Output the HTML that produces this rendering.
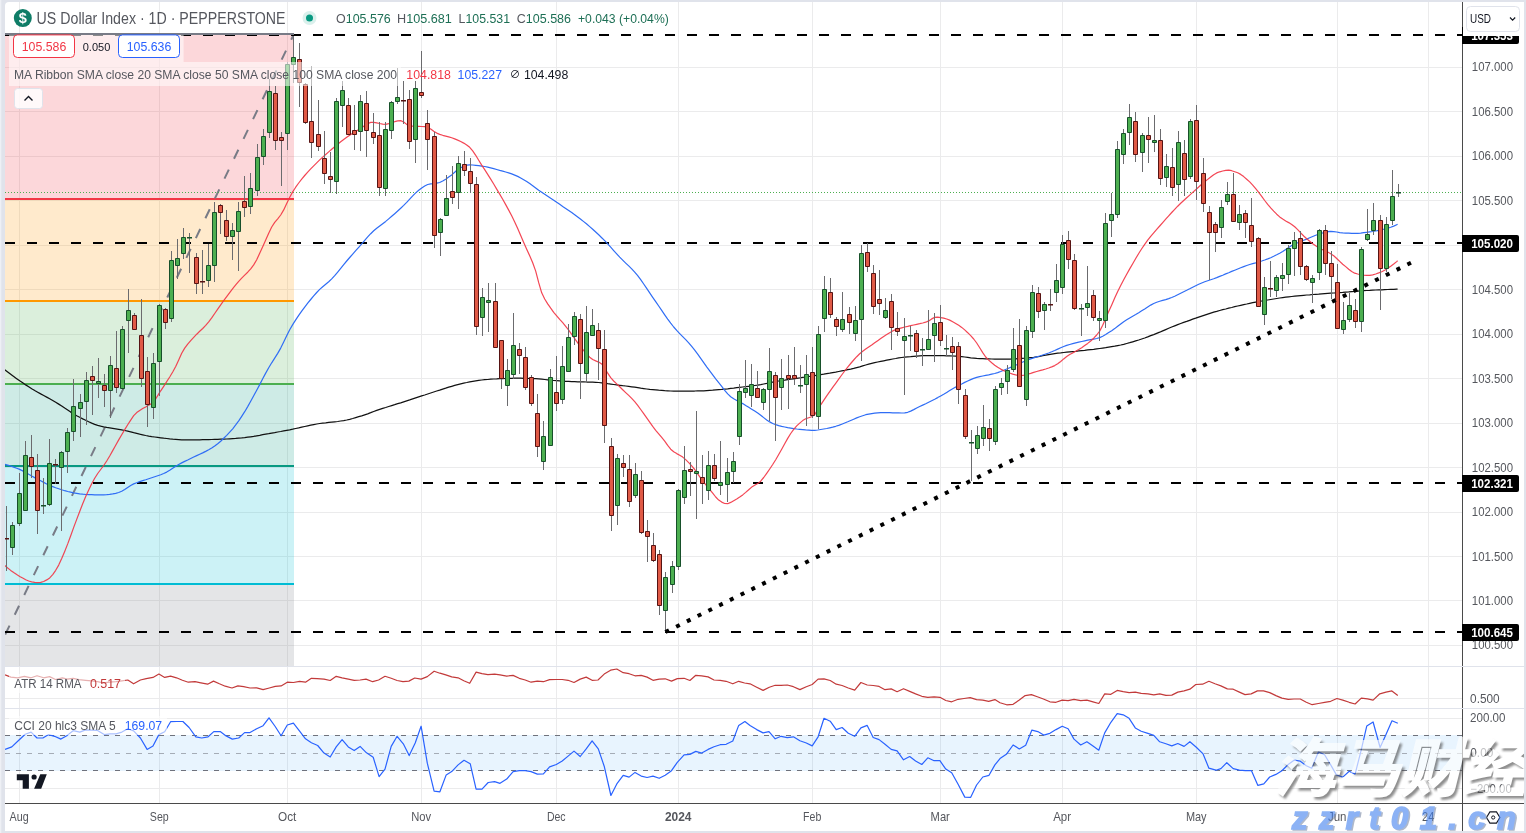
<!DOCTYPE html>
<html lang="en"><head><meta charset="utf-8"><title>US Dollar Index · 1D · PEPPERSTONE</title>
<style>html,body{margin:0;padding:0;background:#fff;overflow:hidden}svg{display:block}text{white-space:pre}</style>
</head><body>
<svg width="1526" height="833" viewBox="0 0 1526 833" font-family='"Liberation Sans", "Noto Sans CJK SC", sans-serif'>
<defs>
<clipPath id="cm"><rect x="5" y="2" width="1457" height="664"/></clipPath>
<clipPath id="ca"><rect x="5" y="666" width="1457" height="42"/></clipPath>
<clipPath id="cc"><rect x="5" y="708" width="1457" height="95"/></clipPath>
<clipPath id="call"><rect x="5" y="2" width="1519" height="829"/></clipPath>
</defs>
<rect x="0" y="0" width="1526" height="833" fill="#e0e3eb"/>
<rect x="0" y="0" width="1.3" height="833" fill="#eef0f5"/>
<rect x="5" y="2" width="1519" height="829" rx="4" fill="#fff"/>
<path d="M19.5 2V803M159.5 2V803M287.5 2V803M421.5 2V803M556.5 2V803M678.5 2V803M812.5 2V803M940.5 2V803M1062.5 2V803M1196.5 2V803M1337.5 2V803M1428.5 2V803M5 67.5H1462M5 111.5H1462M5 156.5H1462M5 200.5H1462M5 245.5H1462M5 289.5H1462M5 334.5H1462M5 378.5H1462M5 423.5H1462M5 467.5H1462M5 512.5H1462M5 556.5H1462M5 600.5H1462M5 645.5H1462M5 698.5H1462M5 718.5H1462M5 788.5H1462" stroke="#ebebec" stroke-width="1" fill="none"/>
<g clip-path="url(#cm)">
<rect x="5" y="34.0" width="289" height="165.0" fill="#f23645" fill-opacity="0.2"/>
<rect x="5" y="199.0" width="289" height="102.1" fill="#ff9800" fill-opacity="0.2"/>
<rect x="5" y="301.1" width="289" height="82.5" fill="#4caf50" fill-opacity="0.2"/>
<rect x="5" y="383.6" width="289" height="82.5" fill="#089981" fill-opacity="0.2"/>
<rect x="5" y="466.1" width="289" height="117.5" fill="#00bcd4" fill-opacity="0.2"/>
<rect x="5" y="583.5" width="289" height="149.6" fill="#787b86" fill-opacity="0.2"/>
<path d="M5 34H294" stroke="#787b86" stroke-width="2"/>
<path d="M5 199H294" stroke="#f23645" stroke-width="2"/>
<path d="M5 301H294" stroke="#ff9800" stroke-width="2"/>
<path d="M5 384H294" stroke="#4caf50" stroke-width="2"/>
<path d="M5 466H294" stroke="#089981" stroke-width="2"/>
<path d="M5 584H294" stroke="#00bcd4" stroke-width="2"/>
<path d="M5 733H294" stroke="#787b86" stroke-width="2"/>
<path d="M5.2 634.6 L294 34" stroke="#787b86" stroke-width="2" stroke-dasharray="10 12" fill="none"/>
</g>
<g clip-path="url(#cm)">
<path d="M5 35H1462" stroke="#000" stroke-width="2" stroke-dasharray="10 12"/>
<path d="M5 243H1462" stroke="#000" stroke-width="2" stroke-dasharray="10 12"/>
<path d="M5 483H1462" stroke="#000" stroke-width="2" stroke-dasharray="10 12"/>
<path d="M5 632H1462" stroke="#000" stroke-width="2" stroke-dasharray="10 12"/>
<path d="M5 34H294" stroke="#787b86" stroke-width="2"/>
<path d="M5 192.5H1462" stroke="#4caf50" stroke-width="1" stroke-dasharray="1 2"/>
</g>
<path d="M4.7 369.7L7.7 372.0L10.7 374.3L13.7 376.5L16.7 378.7L19.7 380.8L22.7 382.8L25.7 384.9L28.7 386.8L31.7 388.7L34.7 390.5L37.7 392.2L40.7 393.9L43.7 395.5L46.7 397.1L49.7 398.8L52.7 400.5L55.7 402.2L58.7 404.1L61.7 406.0L64.7 408.1L67.7 410.1L70.7 412.1L73.7 414.0L76.7 415.8L79.7 417.3L82.7 418.9L85.7 420.3L88.7 421.8L91.7 423.1L94.7 424.3L97.7 425.3L100.7 426.1L103.7 426.8L106.7 427.4L109.7 427.9L112.7 428.4L115.7 428.9L118.7 429.4L121.7 429.9L124.7 430.5L127.7 431.1L130.7 431.8L133.7 432.6L136.7 433.3L139.7 434.1L142.7 434.8L145.7 435.5L148.7 436.1L151.7 436.6L154.7 437.0L157.7 437.4L160.7 437.8L163.7 438.2L166.7 438.5L169.7 438.9L172.7 439.2L175.7 439.4L178.7 439.6L181.7 439.8L184.7 439.9L187.7 439.9L190.7 439.9L193.7 439.9L196.7 439.8L199.7 439.8L202.7 439.7L205.7 439.7L208.7 439.6L211.7 439.5L214.7 439.4L217.7 439.3L220.7 439.2L223.7 439.1L226.7 439.0L229.7 438.8L232.7 438.6L235.7 438.4L238.7 438.1L241.7 437.9L244.7 437.6L247.7 437.2L250.7 436.8L253.7 436.4L256.7 435.8L259.7 435.3L262.7 434.7L265.7 434.2L268.7 433.7L271.7 433.1L274.7 432.6L277.7 432.0L280.7 431.5L283.7 430.9L286.7 430.3L289.7 429.8L292.7 429.2L295.7 428.5L298.7 427.9L301.7 427.2L304.7 426.5L307.7 425.8L310.7 425.2L313.7 424.6L316.7 424.0L319.7 423.5L322.7 423.1L325.7 422.8L328.7 422.4L331.7 422.1L334.7 421.8L337.7 421.5L340.7 421.0L343.7 420.6L346.7 420.0L349.7 419.3L352.7 418.5L355.7 417.6L358.7 416.7L361.7 415.8L364.7 414.8L367.7 413.8L370.7 412.7L373.7 411.5L376.7 410.4L379.7 409.4L382.7 408.4L385.7 407.5L388.7 406.5L391.7 405.6L394.7 404.7L397.7 403.7L400.7 402.8L403.7 401.8L406.7 400.8L409.7 399.9L412.7 398.9L415.7 397.9L418.7 396.9L421.7 395.9L424.7 395.0L427.7 394.0L430.7 393.0L433.7 392.0L436.7 391.0L439.7 390.1L442.7 389.1L445.7 388.2L448.7 387.2L451.7 386.3L454.7 385.4L457.7 384.6L460.7 383.8L463.7 383.1L466.7 382.5L469.7 381.8L472.7 381.3L475.7 380.8L478.7 380.4L481.7 380.0L484.7 379.7L487.7 379.5L490.7 379.2L493.7 379.0L496.7 378.9L499.7 378.7L502.7 378.6L505.7 378.5L508.7 378.4L511.7 378.3L514.7 378.2L517.7 378.2L520.7 378.2L523.7 378.3L526.7 378.4L529.7 378.5L532.7 378.6L535.7 378.7L538.7 378.9L541.7 379.2L544.7 379.5L547.7 379.8L550.7 380.2L553.7 380.5L556.7 380.7L559.7 380.9L562.7 381.1L565.7 381.3L568.7 381.4L571.7 381.6L574.7 381.7L577.7 381.8L580.7 381.8L583.7 381.9L586.7 382.0L589.7 382.0L592.7 382.1L595.7 382.3L598.7 382.5L601.7 382.8L604.7 383.2L607.7 383.7L610.7 384.1L613.7 384.5L616.7 384.9L619.7 385.3L622.7 385.7L625.7 386.0L628.7 386.4L631.7 386.8L634.7 387.2L637.7 387.7L640.7 388.2L643.7 388.6L646.7 389.0L649.7 389.4L652.7 389.6L655.7 389.9L658.7 390.2L661.7 390.4L664.7 390.7L667.7 390.8L670.7 391.0L673.7 391.1L676.7 391.1L679.7 391.1L682.7 391.1L685.7 391.1L688.7 391.0L691.7 391.0L694.7 391.0L697.7 390.9L700.7 390.9L703.7 390.8L706.7 390.6L709.7 390.4L712.7 390.2L715.7 389.9L718.7 389.6L721.7 389.4L724.7 389.1L727.7 388.8L730.7 388.4L733.7 388.1L736.7 387.7L739.7 387.3L742.7 387.0L745.7 386.7L748.7 386.3L751.7 385.9L754.7 385.5L757.7 385.1L760.7 384.6L763.7 384.0L766.7 383.4L769.7 382.7L772.7 382.1L775.7 381.5L778.7 381.0L781.7 380.5L784.7 380.1L787.7 379.6L790.7 379.2L793.7 378.8L796.7 378.3L799.7 377.9L802.7 377.4L805.7 377.0L808.7 376.5L811.7 376.1L814.7 375.6L817.7 375.1L820.7 374.6L823.7 374.2L826.7 373.7L829.7 373.2L832.7 372.6L835.7 372.1L838.7 371.5L841.7 370.9L844.7 370.4L847.7 369.7L850.7 369.1L853.7 368.4L856.7 367.6L859.7 366.8L862.7 365.9L865.7 365.0L868.7 364.2L871.7 363.4L874.7 362.7L877.7 362.0L880.7 361.4L883.7 360.8L886.7 360.2L889.7 359.6L892.7 359.0L895.7 358.5L898.7 357.9L901.7 357.5L904.7 357.1L907.7 356.8L910.7 356.6L913.7 356.3L916.7 356.1L919.7 355.9L922.7 355.7L925.7 355.6L928.7 355.5L931.7 355.5L934.7 355.5L937.7 355.6L940.7 355.6L943.7 355.7L946.7 355.8L949.7 355.9L952.7 356.0L955.7 356.1L958.7 356.3L961.7 356.6L964.7 357.0L967.7 357.4L970.7 357.8L973.7 358.1L976.7 358.4L979.7 358.6L982.7 358.7L985.7 358.8L988.7 358.9L991.7 359.0L994.7 359.1L997.7 359.1L1000.7 359.2L1003.7 359.2L1006.7 359.2L1009.7 359.1L1012.7 359.0L1015.7 358.8L1018.7 358.6L1021.7 358.4L1024.7 358.2L1027.7 357.9L1030.7 357.6L1033.7 357.3L1036.7 356.8L1039.7 356.3L1042.7 355.7L1045.7 355.2L1048.7 354.6L1051.7 354.1L1054.7 353.6L1057.7 353.2L1060.7 352.9L1063.7 352.5L1066.7 352.2L1069.7 351.9L1072.7 351.6L1075.7 351.3L1078.7 350.9L1081.7 350.6L1084.7 350.3L1087.7 349.9L1090.7 349.6L1093.7 349.3L1096.7 348.9L1099.7 348.5L1102.7 348.1L1105.7 347.7L1108.7 347.2L1111.7 346.7L1114.7 346.2L1117.7 345.6L1120.7 345.0L1123.7 344.3L1126.7 343.5L1129.7 342.7L1132.7 341.8L1135.7 340.9L1138.7 340.0L1141.7 339.0L1144.7 338.0L1147.7 336.9L1150.7 335.7L1153.7 334.6L1156.7 333.4L1159.7 332.2L1162.7 330.9L1165.7 329.6L1168.7 328.3L1171.7 327.0L1174.7 325.8L1177.7 324.6L1180.7 323.5L1183.7 322.4L1186.7 321.4L1189.7 320.3L1192.7 319.2L1195.7 318.2L1198.7 317.1L1201.7 316.1L1204.7 315.1L1207.7 314.1L1210.7 313.1L1213.7 312.2L1216.7 311.4L1219.7 310.5L1222.7 309.7L1225.7 309.0L1228.7 308.2L1231.7 307.5L1234.7 306.7L1237.7 306.0L1240.7 305.3L1243.7 304.6L1246.7 304.0L1249.7 303.3L1252.7 302.7L1255.7 302.1L1258.7 301.6L1261.7 301.0L1264.7 300.5L1267.7 300.0L1270.7 299.5L1273.7 299.0L1276.7 298.5L1279.7 298.0L1282.7 297.6L1285.7 297.2L1288.7 296.8L1291.7 296.5L1294.7 296.2L1297.7 295.9L1300.7 295.6L1303.7 295.3L1306.7 295.0L1309.7 294.8L1312.7 294.5L1315.7 294.3L1318.7 294.1L1321.7 293.8L1324.7 293.6L1327.7 293.4L1330.7 293.2L1333.7 293.0L1336.7 292.8L1339.7 292.6L1342.7 292.4L1345.7 292.1L1348.7 291.9L1351.7 291.6L1354.7 291.4L1357.7 291.1L1360.7 290.9L1363.7 290.7L1366.7 290.5L1369.7 290.4L1372.7 290.2L1375.7 290.0L1378.7 289.9L1381.7 289.8L1384.7 289.6L1387.7 289.5L1390.7 289.4L1393.7 289.3L1396.7 289.2L1397.6 289.2" stroke="#111" stroke-width="1.25" fill="none" stroke-linejoin="round" clip-path="url(#cm)" />
<path d="M4.7 464.3L7.7 465.1L10.7 466.0L13.7 467.1L16.7 468.2L19.7 469.4L22.7 470.9L25.7 472.5L28.7 474.3L31.7 476.0L34.7 477.6L37.7 479.2L40.7 480.8L43.7 482.4L46.7 484.0L49.7 485.4L52.7 486.6L55.7 487.8L58.7 488.8L61.7 489.8L64.7 490.7L67.7 491.5L70.7 492.2L73.7 492.8L76.7 493.3L79.7 493.8L82.7 494.2L85.7 494.5L88.7 494.6L91.7 494.7L94.7 494.8L97.7 494.9L100.7 494.9L103.7 494.9L106.7 494.7L109.7 494.4L112.7 493.9L115.7 493.3L118.7 492.5L121.7 491.2L124.7 489.4L127.7 487.4L130.7 485.5L133.7 483.9L136.7 482.7L139.7 481.6L142.7 480.6L145.7 479.7L148.7 478.7L151.7 477.7L154.7 476.7L157.7 475.7L160.7 474.7L163.7 473.5L166.7 472.1L169.7 470.3L172.7 468.3L175.7 466.3L178.7 464.5L181.7 462.9L184.7 461.4L187.7 460.0L190.7 458.5L193.7 457.0L196.7 455.6L199.7 454.2L202.7 452.9L205.7 451.4L208.7 449.8L211.7 448.1L214.7 446.0L217.7 443.7L220.7 441.2L223.7 438.3L226.7 435.3L229.7 432.1L232.7 428.8L235.7 424.9L238.7 420.8L241.7 416.3L244.7 411.7L247.7 406.6L250.7 401.2L253.7 395.7L256.7 390.2L259.7 384.6L262.7 378.8L265.7 373.1L268.7 367.8L271.7 362.8L274.7 358.2L277.7 353.4L280.7 348.1L283.7 342.1L286.7 335.8L289.7 329.8L292.7 324.6L295.7 319.9L298.7 315.4L301.7 311.2L304.7 307.1L307.7 303.2L310.7 299.5L313.7 295.9L316.7 292.5L319.7 289.4L322.7 286.7L325.7 284.2L328.7 281.7L331.7 278.9L334.7 275.7L337.7 272.1L340.7 268.4L343.7 264.7L346.7 261.0L349.7 257.5L352.7 254.1L355.7 250.7L358.7 247.3L361.7 243.9L364.7 240.4L367.7 236.9L370.7 233.7L373.7 230.8L376.7 228.3L379.7 226.0L382.7 223.7L385.7 221.4L388.7 218.9L391.7 216.3L394.7 213.7L397.7 211.0L400.7 208.2L403.7 205.4L406.7 202.4L409.7 199.1L412.7 195.9L415.7 192.9L418.7 190.3L421.7 188.0L424.7 186.0L427.7 184.5L430.7 183.9L433.7 183.6L436.7 183.2L439.7 182.5L442.7 181.0L445.7 179.2L448.7 177.1L451.7 174.9L454.7 172.2L457.7 169.5L460.7 167.7L463.7 166.2L466.7 165.2L469.7 164.9L472.7 165.0L475.7 165.3L478.7 165.6L481.7 166.1L484.7 166.5L487.7 167.1L490.7 167.8L493.7 168.6L496.7 169.5L499.7 170.4L502.7 171.2L505.7 172.0L508.7 172.9L511.7 173.9L514.7 175.1L517.7 176.4L520.7 178.0L523.7 179.7L526.7 181.5L529.7 183.6L532.7 185.8L535.7 188.1L538.7 190.3L541.7 192.3L544.7 194.3L547.7 196.3L550.7 198.3L553.7 200.2L556.7 202.3L559.7 204.3L562.7 206.4L565.7 208.4L568.7 210.5L571.7 212.6L574.7 214.8L577.7 217.0L580.7 219.2L583.7 221.6L586.7 224.0L589.7 226.6L592.7 229.2L595.7 232.0L598.7 234.8L601.7 237.7L604.7 240.7L607.7 243.9L610.7 247.2L613.7 250.6L616.7 253.9L619.7 257.2L622.7 260.2L625.7 263.1L628.7 265.9L631.7 268.9L634.7 272.1L637.7 275.7L640.7 279.7L643.7 284.0L646.7 288.4L649.7 292.9L652.7 297.3L655.7 301.6L658.7 306.0L661.7 310.4L664.7 314.8L667.7 319.1L670.7 323.2L673.7 327.0L676.7 330.4L679.7 333.6L682.7 336.7L685.7 339.7L688.7 342.9L691.7 346.4L694.7 350.2L697.7 354.2L700.7 358.4L703.7 362.6L706.7 366.8L709.7 370.8L712.7 374.8L715.7 378.8L718.7 382.6L721.7 386.4L724.7 390.3L727.7 393.9L730.7 396.7L733.7 398.7L736.7 400.4L739.7 402.0L742.7 403.6L745.7 405.5L748.7 407.3L751.7 409.2L754.7 411.1L757.7 413.1L760.7 415.2L763.7 417.6L766.7 419.9L769.7 421.9L772.7 423.5L775.7 424.6L778.7 425.6L781.7 426.4L784.7 427.0L787.7 427.6L790.7 428.1L793.7 428.6L796.7 429.0L799.7 429.3L802.7 429.6L805.7 429.9L808.7 430.1L811.7 430.3L814.7 430.3L817.7 430.0L820.7 429.5L823.7 429.0L826.7 428.5L829.7 427.8L832.7 427.1L835.7 426.3L838.7 425.4L841.7 424.2L844.7 423.0L847.7 421.8L850.7 420.5L853.7 419.2L856.7 417.9L859.7 416.7L862.7 415.7L865.7 414.7L868.7 414.1L871.7 413.6L874.7 413.2L877.7 412.9L880.7 412.7L883.7 412.6L886.7 412.6L889.7 412.7L892.7 412.8L895.7 412.9L898.7 412.9L901.7 413.0L904.7 412.9L907.7 412.3L910.7 411.1L913.7 409.6L916.7 408.0L919.7 406.5L922.7 405.1L925.7 403.7L928.7 402.2L931.7 400.7L934.7 399.2L937.7 397.6L940.7 395.9L943.7 394.2L946.7 392.4L949.7 390.6L952.7 388.8L955.7 387.1L958.7 385.5L961.7 384.0L964.7 382.4L967.7 381.0L970.7 379.6L973.7 378.4L976.7 377.4L979.7 376.6L982.7 376.0L985.7 375.4L988.7 374.9L991.7 374.2L994.7 373.5L997.7 372.6L1000.7 371.5L1003.7 370.3L1006.7 369.0L1009.7 367.7L1012.7 366.4L1015.7 365.2L1018.7 363.8L1021.7 362.5L1024.7 361.3L1027.7 360.0L1030.7 358.9L1033.7 357.9L1036.7 356.9L1039.7 356.0L1042.7 355.0L1045.7 354.0L1048.7 353.0L1051.7 351.8L1054.7 350.5L1057.7 349.1L1060.7 347.8L1063.7 346.5L1066.7 345.4L1069.7 344.5L1072.7 343.7L1075.7 342.9L1078.7 342.2L1081.7 341.5L1084.7 340.8L1087.7 340.2L1090.7 339.6L1093.7 339.1L1096.7 338.5L1099.7 337.6L1102.7 336.3L1105.7 334.6L1108.7 332.6L1111.7 330.7L1114.7 328.6L1117.7 326.2L1120.7 323.9L1123.7 321.7L1126.7 319.8L1129.7 318.0L1132.7 316.2L1135.7 314.5L1138.7 312.7L1141.7 310.8L1144.7 308.9L1147.7 306.9L1150.7 305.1L1153.7 303.5L1156.7 302.3L1159.7 301.3L1162.7 300.4L1165.7 299.6L1168.7 298.6L1171.7 297.5L1174.7 296.2L1177.7 294.7L1180.7 293.2L1183.7 291.7L1186.7 290.3L1189.7 288.8L1192.7 287.2L1195.7 285.7L1198.7 284.3L1201.7 283.0L1204.7 281.8L1207.7 280.7L1210.7 279.7L1213.7 278.7L1216.7 277.6L1219.7 276.4L1222.7 275.2L1225.7 273.9L1228.7 272.7L1231.7 271.4L1234.7 270.2L1237.7 269.0L1240.7 267.8L1243.7 266.6L1246.7 265.5L1249.7 264.5L1252.7 263.6L1255.7 262.8L1258.7 261.9L1261.7 261.0L1264.7 260.0L1267.7 258.9L1270.7 257.7L1273.7 256.3L1276.7 254.8L1279.7 253.2L1282.7 251.5L1285.7 249.5L1288.7 247.5L1291.7 245.6L1294.7 244.1L1297.7 242.7L1300.7 241.5L1303.7 240.3L1306.7 239.1L1309.7 237.8L1312.7 236.5L1315.7 235.3L1318.7 234.3L1321.7 233.3L1324.7 232.4L1327.7 231.7L1330.7 231.4L1333.7 231.6L1336.7 232.0L1339.7 232.6L1342.7 232.9L1345.7 233.1L1348.7 233.2L1351.7 233.3L1354.7 233.3L1357.7 233.3L1360.7 233.1L1363.7 232.7L1366.7 232.3L1369.7 231.9L1372.7 231.5L1375.7 231.0L1378.7 230.4L1381.7 229.7L1384.7 229.0L1387.7 228.2L1390.7 227.3L1393.7 226.1L1396.7 224.7L1397.6 224.3" stroke="#2f6df5" stroke-width="1.2" fill="none" stroke-linejoin="round" clip-path="url(#cm)" />
<path d="M4.7 565.4L7.7 568.0L10.7 570.4L13.7 572.6L16.7 574.6L19.7 576.4L22.7 578.1L25.7 579.8L28.7 581.0L31.7 581.8L34.7 582.3L37.7 582.6L40.7 582.4L43.7 581.5L46.7 579.9L49.7 577.9L52.7 574.6L55.7 570.3L58.7 565.1L61.7 558.5L64.7 551.4L67.7 543.9L70.7 535.7L73.7 527.4L76.7 519.4L79.7 511.5L82.7 503.7L85.7 496.6L88.7 490.0L91.7 483.8L94.7 478.2L97.7 473.5L100.7 469.5L103.7 465.5L106.7 461.0L109.7 456.0L112.7 450.6L115.7 445.2L118.7 439.9L121.7 434.7L124.7 429.6L127.7 424.8L130.7 420.1L133.7 415.7L136.7 412.6L139.7 410.4L142.7 408.6L145.7 406.9L148.7 405.1L151.7 403.5L154.7 400.5L157.7 395.6L160.7 390.8L163.7 386.3L166.7 381.7L169.7 377.0L172.7 372.0L175.7 366.5L178.7 359.9L181.7 353.2L184.7 348.1L187.7 344.1L190.7 340.7L193.7 337.4L196.7 334.2L199.7 331.3L202.7 328.5L205.7 325.4L208.7 321.9L211.7 317.9L214.7 313.5L217.7 309.1L220.7 304.8L223.7 300.7L226.7 296.6L229.7 292.6L232.7 288.7L235.7 284.9L238.7 281.3L241.7 278.1L244.7 275.1L247.7 272.2L250.7 268.9L253.7 264.9L256.7 259.7L259.7 253.3L262.7 246.7L265.7 240.1L268.7 233.2L271.7 227.0L274.7 222.4L277.7 218.8L280.7 215.0L283.7 209.9L286.7 203.5L289.7 197.2L292.7 191.9L295.7 187.2L298.7 183.0L301.7 179.1L304.7 175.5L307.7 172.1L310.7 168.9L313.7 165.8L316.7 162.8L319.7 159.9L322.7 157.1L325.7 154.5L328.7 151.9L331.7 149.3L334.7 146.8L337.7 144.3L340.7 141.8L343.7 139.5L346.7 137.3L349.7 135.2L352.7 133.3L355.7 131.4L358.7 129.6L361.7 127.8L364.7 125.6L367.7 123.7L370.7 122.4L373.7 122.3L376.7 122.8L379.7 123.5L382.7 124.1L385.7 124.3L388.7 123.7L391.7 122.8L394.7 121.7L397.7 120.9L400.7 120.6L403.7 122.0L406.7 124.4L409.7 125.9L412.7 126.2L415.7 126.3L418.7 126.4L421.7 126.5L424.7 126.7L427.7 127.4L430.7 129.1L433.7 131.3L436.7 133.1L439.7 134.4L442.7 135.3L445.7 136.1L448.7 136.9L451.7 137.8L454.7 138.9L457.7 140.1L460.7 141.5L463.7 143.1L466.7 145.0L469.7 147.3L472.7 150.8L475.7 155.3L478.7 160.2L481.7 165.1L484.7 169.7L487.7 174.3L490.7 179.1L493.7 184.0L496.7 189.1L499.7 194.1L502.7 199.3L505.7 204.6L508.7 210.1L511.7 215.8L514.7 221.9L517.7 228.5L520.7 235.4L523.7 242.4L526.7 249.2L529.7 255.8L532.7 262.7L535.7 271.1L538.7 282.7L541.7 292.8L544.7 299.0L547.7 303.9L550.7 308.2L553.7 312.3L556.7 315.9L559.7 319.4L562.7 322.7L565.7 326.3L568.7 330.2L571.7 334.4L574.7 338.7L577.7 342.9L580.7 346.7L583.7 350.5L586.7 354.1L589.7 357.2L592.7 359.5L595.7 360.9L598.7 362.1L601.7 364.0L604.7 368.0L607.7 373.2L610.7 377.7L613.7 381.0L616.7 383.9L619.7 386.8L622.7 389.7L625.7 392.6L628.7 395.4L631.7 398.4L634.7 401.7L637.7 405.3L640.7 409.5L643.7 413.7L646.7 417.9L649.7 422.2L652.7 426.4L655.7 430.3L658.7 433.9L661.7 437.4L664.7 441.1L667.7 445.3L670.7 449.2L673.7 451.8L676.7 453.6L679.7 455.2L682.7 457.1L685.7 459.6L688.7 462.6L691.7 465.8L694.7 469.5L697.7 473.8L700.7 478.2L703.7 482.2L706.7 485.9L709.7 489.5L712.7 493.1L715.7 497.0L718.7 500.1L721.7 502.1L724.7 503.5L727.7 503.7L730.7 502.4L733.7 500.7L736.7 499.0L739.7 497.1L742.7 494.9L745.7 492.4L748.7 489.7L751.7 487.1L754.7 485.3L757.7 483.6L760.7 481.2L763.7 477.5L766.7 473.3L769.7 469.0L772.7 464.5L775.7 459.7L778.7 454.5L781.7 449.2L784.7 443.8L787.7 438.4L790.7 433.5L793.7 429.3L796.7 425.9L799.7 423.1L802.7 420.6L805.7 418.8L808.7 417.7L811.7 416.8L814.7 414.6L817.7 409.6L820.7 404.8L823.7 400.3L826.7 395.8L829.7 391.6L832.7 387.4L835.7 383.3L838.7 379.1L841.7 375.0L844.7 371.0L847.7 367.1L850.7 363.5L853.7 360.0L856.7 356.7L859.7 353.8L862.7 351.3L865.7 349.1L868.7 347.0L871.7 345.0L874.7 342.8L877.7 340.7L880.7 338.6L883.7 336.5L886.7 334.6L889.7 332.7L892.7 330.9L895.7 329.6L898.7 328.6L901.7 327.8L904.7 327.0L907.7 326.4L910.7 325.7L913.7 325.0L916.7 324.3L919.7 323.7L922.7 323.0L925.7 322.2L928.7 320.9L931.7 318.9L934.7 317.4L937.7 317.2L940.7 317.6L943.7 318.2L946.7 319.0L949.7 320.1L952.7 321.7L955.7 323.4L958.7 325.3L961.7 327.4L964.7 329.9L967.7 332.7L970.7 335.7L973.7 339.0L976.7 343.0L979.7 347.7L982.7 352.6L985.7 357.0L988.7 360.1L991.7 362.8L994.7 365.2L997.7 367.3L1000.7 369.1L1003.7 370.6L1006.7 371.8L1009.7 373.0L1012.7 374.1L1015.7 374.9L1018.7 375.4L1021.7 375.5L1024.7 375.1L1027.7 374.3L1030.7 373.4L1033.7 372.4L1036.7 371.5L1039.7 370.7L1042.7 369.9L1045.7 369.0L1048.7 368.0L1051.7 366.9L1054.7 365.6L1057.7 363.8L1060.7 361.5L1063.7 358.9L1066.7 356.6L1069.7 354.6L1072.7 352.9L1075.7 351.3L1078.7 349.6L1081.7 347.7L1084.7 345.6L1087.7 343.4L1090.7 341.0L1093.7 338.2L1096.7 335.0L1099.7 331.1L1102.7 325.3L1105.7 318.4L1108.7 311.6L1111.7 304.9L1114.7 298.1L1117.7 291.6L1120.7 285.6L1123.7 279.8L1126.7 274.3L1129.7 268.9L1132.7 263.7L1135.7 258.5L1138.7 253.5L1141.7 248.8L1144.7 244.3L1147.7 240.2L1150.7 236.4L1153.7 232.9L1156.7 229.4L1159.7 226.0L1162.7 222.6L1165.7 219.2L1168.7 215.8L1171.7 212.5L1174.7 209.3L1177.7 206.2L1180.7 203.3L1183.7 200.5L1186.7 197.7L1189.7 195.1L1192.7 192.4L1195.7 189.7L1198.7 187.0L1201.7 184.3L1204.7 181.8L1207.7 179.4L1210.7 177.0L1213.7 174.7L1216.7 172.9L1219.7 171.8L1222.7 171.0L1225.7 170.4L1228.7 170.2L1231.7 170.7L1234.7 171.7L1237.7 172.8L1240.7 174.4L1243.7 176.6L1246.7 179.2L1249.7 181.9L1252.7 185.1L1255.7 188.7L1258.7 192.4L1261.7 196.3L1264.7 200.5L1267.7 204.4L1270.7 207.9L1273.7 211.2L1276.7 214.2L1279.7 216.9L1282.7 219.1L1285.7 221.0L1288.7 222.6L1291.7 224.5L1294.7 226.7L1297.7 229.6L1300.7 232.8L1303.7 236.0L1306.7 238.8L1309.7 241.3L1312.7 243.7L1315.7 245.8L1318.7 247.8L1321.7 249.3L1324.7 250.7L1327.7 252.0L1330.7 253.7L1333.7 255.8L1336.7 258.5L1339.7 261.4L1342.7 264.2L1345.7 266.6L1348.7 269.2L1351.7 271.5L1354.7 273.2L1357.7 274.0L1360.7 274.7L1363.7 275.2L1366.7 275.4L1369.7 275.4L1372.7 274.9L1375.7 274.0L1378.7 272.9L1381.7 271.7L1384.7 270.2L1387.7 268.2L1390.7 266.2L1393.7 264.0L1396.7 261.6L1397.6 260.8" stroke="#f23645" stroke-width="1.2" fill="none" stroke-linejoin="round" clip-path="url(#cm)" stroke-opacity="0.92"/>
<g clip-path="url(#cm)">
<path d="M6.5 506V571M12.5 522V555M19.5 473V526M25.5 441V511M31.5 435V478M37.5 454V534M43.5 478V514M49.5 439V506M55.5 459V484M61.5 451V531M67.5 428V473M73.5 379V441M80.5 394V437M86.5 372V425M92.5 366V415M98.5 358V398M104.5 374V407M110.5 356V418M116.5 331V393M122.5 326V390M128.5 289V353M134.5 313V330M141.5 299V387M147.5 357V427M153.5 353V419M159.5 304V396M165.5 308V329M171.5 251V322M177.5 239V279M183.5 228V259M189.5 233V273M196.5 253V294M202.5 250V294M208.5 244V287M214.5 202V282M220.5 204V234M226.5 210V241M232.5 223V260M238.5 202V271M244.5 176V217M250.5 173V214M257.5 144V196M263.5 129V165M269.5 79V138M275.5 86V150M281.5 132V186M287.5 62V150M293.5 36V83M299.5 43V107M305.5 83V124M311.5 66V158M318.5 100V151M324.5 131V184M330.5 152V193M336.5 98V194M342.5 81V127M348.5 98V135M354.5 105V150M360.5 95V151M366.5 91V157M373.5 113V144M379.5 122V196M385.5 122V196M391.5 101V139M397.5 68V104M403.5 81V124M409.5 90V149M415.5 81V163M421.5 51V98M427.5 110V170M434.5 132V248M440.5 218V256M446.5 175V216M452.5 166V204M458.5 156V209M464.5 151V176M470.5 158V193M476.5 177V335M482.5 288V336M488.5 283V332M495.5 283V348M501.5 340V389M507.5 359V406M513.5 313V379M519.5 343V374M525.5 347V390M531.5 375V406M537.5 394V457M543.5 421V470M550.5 369V446M556.5 356V411M562.5 346V404M568.5 324V372M574.5 312V345M580.5 314V399M586.5 306V382M592.5 309V336M598.5 323V380M604.5 330V443M611.5 438V531M617.5 454V525M623.5 455V477M629.5 455V507M635.5 463V498M641.5 471V534M647.5 520V562M653.5 533V562M659.5 550V615M665.5 572V632M672.5 561V593M678.5 489V570M684.5 446V504M690.5 462V496M696.5 411V519M702.5 455V504M708.5 451V500M714.5 454V481M720.5 441V495M727.5 458V502M733.5 452V483M739.5 384V445M745.5 360V398M751.5 364V407M757.5 371V398M763.5 388V410M769.5 348V421M775.5 372V441M781.5 359V410M788.5 355V409M794.5 347V385M800.5 365V393M806.5 355V426M812.5 347V418M818.5 326V429M824.5 276V332M830.5 278V318M836.5 317V336M842.5 292V332M849.5 307V334M855.5 306V341M861.5 245V361M867.5 243V272M873.5 265V314M879.5 270V315M885.5 298V319M891.5 294V350M897.5 312V336M904.5 318V395M910.5 326V351M916.5 330V358M922.5 338V366M928.5 310V350M934.5 313V362M940.5 305V346M946.5 335V356M952.5 337V370M958.5 342V404M965.5 389V439M971.5 430V481M977.5 426V454M983.5 405V446M989.5 419V451M995.5 386V445M1001.5 378V395M1007.5 365V394M1013.5 328V372M1019.5 319V387M1026.5 326V406M1032.5 285V338M1038.5 287V318M1044.5 302V330M1050.5 289V311M1056.5 264V302M1062.5 235V294M1068.5 231V269M1074.5 254V310M1081.5 304V336M1087.5 266V316M1093.5 290V321M1099.5 311V341M1105.5 213V328M1111.5 193V237M1117.5 141V218M1123.5 129V164M1129.5 104V145M1135.5 112V162M1142.5 133V172M1148.5 117V163M1154.5 115V152M1160.5 129V185M1166.5 154V187M1172.5 148V196M1178.5 131V201M1184.5 140V196M1190.5 119V179M1196.5 105V200M1203.5 158V212M1209.5 206V280M1215.5 222V252M1221.5 200V238M1227.5 182V205M1233.5 173V222M1239.5 205V230M1245.5 210V238M1251.5 198V247M1258.5 237V307M1264.5 277V325M1270.5 261V297M1276.5 275V297M1282.5 263V291M1288.5 245V284M1294.5 232V276M1300.5 231V275M1306.5 265V281M1312.5 275V303M1319.5 229V280M1325.5 225V275M1331.5 251V299M1337.5 264V329M1343.5 302V334M1349.5 293V322M1355.5 299V328M1361.5 247V332M1367.5 209V241M1373.5 203V235M1380.5 215V310M1386.5 217V272M1392.5 170V225M1398.5 184V197" stroke="#6b6b6e" stroke-width="1" fill="none"/>
<path d="M10.5 525.5h4v22h-4zM17.5 493.5h4v30h-4zM23.5 455.5h4v55h-4zM47.5 463.5h4v41h-4zM59.5 452.5h4v15h-4zM65.5 432.5h4v19h-4zM71.5 406.5h4v25h-4zM78.5 402.5h4v6h-4zM84.5 380.5h4v21h-4zM96.5 381.5h4v2h-4zM108.5 365.5h4v25h-4zM120.5 329.5h4v59h-4zM126.5 310.5h4v10h-4zM151.5 363.5h4v44h-4zM157.5 305.5h4v56h-4zM169.5 260.5h4v58h-4zM175.5 258.5h4v7h-4zM181.5 237.5h4v16h-4zM206.5 265.5h4v15h-4zM212.5 212.5h4v53h-4zM230.5 230.5h4v6h-4zM236.5 211.5h4v20h-4zM248.5 188.5h4v18h-4zM255.5 157.5h4v33h-4zM261.5 136.5h4v20h-4zM267.5 91.5h4v41h-4zM285.5 64.5h4v69h-4zM291.5 57.5h4v7h-4zM334.5 101.5h4v80h-4zM340.5 90.5h4v15h-4zM358.5 101.5h4v30h-4zM383.5 129.5h4v59h-4zM389.5 102.5h4v28h-4zM395.5 97.5h4v4h-4zM413.5 88.5h4v51h-4zM438.5 219.5h4v13h-4zM444.5 198.5h4v17h-4zM456.5 163.5h4v29h-4zM480.5 297.5h4v20h-4zM486.5 300.5h4v2h-4zM505.5 370.5h4v15h-4zM511.5 345.5h4v29h-4zM541.5 436.5h4v25h-4zM548.5 377.5h4v68h-4zM560.5 366.5h4v33h-4zM566.5 337.5h4v34h-4zM572.5 316.5h4v20h-4zM584.5 332.5h4v41h-4zM590.5 325.5h4v10h-4zM615.5 458.5h4v47h-4zM633.5 474.5h4v21h-4zM663.5 577.5h4v33h-4zM670.5 566.5h4v18h-4zM676.5 490.5h4v76h-4zM682.5 470.5h4v27h-4zM694.5 471.5h4v2h-4zM706.5 465.5h4v25h-4zM718.5 482.5h4v3h-4zM725.5 472.5h4v12h-4zM731.5 461.5h4v10h-4zM737.5 391.5h4v45h-4zM743.5 388.5h4v4h-4zM749.5 384.5h4v11h-4zM761.5 389.5h4v13h-4zM767.5 371.5h4v18h-4zM779.5 378.5h4v9h-4zM804.5 374.5h4v10h-4zM816.5 334.5h4v82h-4zM822.5 289.5h4v29h-4zM840.5 319.5h4v10h-4zM853.5 320.5h4v13h-4zM859.5 253.5h4v66h-4zM883.5 310.5h4v7h-4zM902.5 336.5h4v4h-4zM926.5 339.5h4v10h-4zM932.5 323.5h4v12h-4zM975.5 435.5h4v13h-4zM981.5 427.5h4v11h-4zM993.5 389.5h4v52h-4zM999.5 383.5h4v4h-4zM1005.5 370.5h4v11h-4zM1011.5 349.5h4v20h-4zM1024.5 330.5h4v69h-4zM1030.5 292.5h4v39h-4zM1042.5 304.5h4v6h-4zM1054.5 280.5h4v12h-4zM1060.5 244.5h4v43h-4zM1085.5 303.5h4v4h-4zM1097.5 318.5h4v2h-4zM1103.5 223.5h4v97h-4zM1109.5 214.5h4v6h-4zM1115.5 149.5h4v65h-4zM1121.5 133.5h4v21h-4zM1127.5 117.5h4v15h-4zM1140.5 135.5h4v17h-4zM1152.5 140.5h4v2h-4zM1164.5 166.5h4v11h-4zM1176.5 142.5h4v42h-4zM1188.5 121.5h4v55h-4zM1219.5 207.5h4v20h-4zM1225.5 194.5h4v7h-4zM1237.5 214.5h4v8h-4zM1262.5 287.5h4v27h-4zM1274.5 277.5h4v13h-4zM1280.5 275.5h4v3h-4zM1286.5 248.5h4v26h-4zM1292.5 240.5h4v8h-4zM1310.5 278.5h4v4h-4zM1317.5 230.5h4v42h-4zM1341.5 320.5h4v9h-4zM1347.5 305.5h4v14h-4zM1359.5 249.5h4v72h-4zM1365.5 234.5h4v5h-4zM1371.5 220.5h4v10h-4zM1384.5 224.5h4v44h-4zM1390.5 196.5h4v24h-4z" fill="#4caf50" stroke="#17502a" stroke-width="1"/>
<path d="M29.5 457.5h4v9h-4zM35.5 470.5h4v40h-4zM90.5 376.5h4v4h-4zM102.5 385.5h4v5h-4zM114.5 368.5h4v19h-4zM132.5 315.5h4v14h-4zM139.5 335.5h4v43h-4zM145.5 371.5h4v33h-4zM163.5 309.5h4v13h-4zM194.5 257.5h4v26h-4zM218.5 205.5h4v7h-4zM224.5 220.5h4v16h-4zM242.5 201.5h4v6h-4zM273.5 93.5h4v47h-4zM279.5 137.5h4v3h-4zM297.5 59.5h4v23h-4zM303.5 84.5h4v38h-4zM309.5 121.5h4v21h-4zM316.5 134.5h4v12h-4zM322.5 158.5h4v15h-4zM328.5 176.5h4v3h-4zM346.5 105.5h4v29h-4zM352.5 130.5h4v4h-4zM364.5 103.5h4v27h-4zM371.5 132.5h4v5h-4zM377.5 135.5h4v52h-4zM407.5 99.5h4v42h-4zM419.5 92.5h4v3h-4zM425.5 123.5h4v16h-4zM432.5 136.5h4v99h-4zM450.5 191.5h4v6h-4zM462.5 164.5h4v6h-4zM468.5 171.5h4v12h-4zM474.5 184.5h4v142h-4zM493.5 301.5h4v46h-4zM499.5 340.5h4v38h-4zM517.5 349.5h4v6h-4zM523.5 357.5h4v30h-4zM529.5 377.5h4v26h-4zM535.5 413.5h4v33h-4zM554.5 392.5h4v11h-4zM578.5 319.5h4v44h-4zM596.5 330.5h4v18h-4zM602.5 349.5h4v76h-4zM609.5 446.5h4v69h-4zM621.5 463.5h4v4h-4zM627.5 469.5h4v32h-4zM639.5 480.5h4v52h-4zM645.5 531.5h4v5h-4zM651.5 545.5h4v15h-4zM657.5 554.5h4v51h-4zM688.5 469.5h4v2h-4zM700.5 477.5h4v6h-4zM712.5 465.5h4v13h-4zM755.5 388.5h4v9h-4zM773.5 375.5h4v22h-4zM786.5 375.5h4v3h-4zM792.5 375.5h4v3h-4zM810.5 372.5h4v43h-4zM828.5 292.5h4v22h-4zM834.5 319.5h4v7h-4zM847.5 314.5h4v8h-4zM865.5 252.5h4v14h-4zM871.5 273.5h4v33h-4zM877.5 299.5h4v4h-4zM889.5 301.5h4v26h-4zM895.5 328.5h4v3h-4zM914.5 333.5h4v18h-4zM938.5 322.5h4v18h-4zM950.5 346.5h4v6h-4zM956.5 346.5h4v43h-4zM963.5 395.5h4v41h-4zM987.5 428.5h4v10h-4zM1017.5 345.5h4v41h-4zM1036.5 293.5h4v18h-4zM1066.5 240.5h4v19h-4zM1072.5 260.5h4v48h-4zM1091.5 295.5h4v22h-4zM1133.5 121.5h4v33h-4zM1146.5 135.5h4v4h-4zM1158.5 140.5h4v38h-4zM1170.5 167.5h4v20h-4zM1182.5 153.5h4v26h-4zM1194.5 120.5h4v61h-4zM1201.5 173.5h4v30h-4zM1207.5 212.5h4v20h-4zM1213.5 224.5h4v8h-4zM1231.5 194.5h4v27h-4zM1243.5 213.5h4v9h-4zM1249.5 225.5h4v16h-4zM1256.5 238.5h4v68h-4zM1298.5 238.5h4v28h-4zM1304.5 266.5h4v13h-4zM1323.5 230.5h4v33h-4zM1329.5 263.5h4v13h-4zM1335.5 282.5h4v46h-4zM1353.5 310.5h4v11h-4zM1378.5 220.5h4v48h-4z" fill="#e05a46" stroke="#561313" stroke-width="1"/>
<path d="M41 505h5v1.4h-5zM187 237h5v1.4h-5zM798 385h5v1.4h-5zM908 335h5v1.4h-5zM920 349h5v1.4h-5zM944 348h5v1.4h-5zM969 442h5v1.4h-5zM1079 308h5v1.4h-5zM1396 192h5v1.4h-5z" fill="#17502a"/>
<path d="M4 538h5v1.4h-5zM53 464h5v1.4h-5zM200 281h5v1.4h-5zM401 100h5v1.4h-5zM1048 304h5v1.4h-5zM1268 288h5v1.4h-5z" fill="#561313"/>
</g>
<g clip-path="url(#cm)">
<path d="M665.4 632.05 L1411.2 262.65" stroke="#000" stroke-width="4" stroke-dasharray="4 8" fill="none"/>
</g>
<rect x="5" y="735" width="1457" height="36" fill="#2196f3" fill-opacity="0.1"/>
<path d="M5 735.5H1462M5 770.5H1462" stroke="#6f727c" stroke-width="1" stroke-dasharray="5 6"/>
<path d="M5 753.5H1462" stroke="#787b86" stroke-opacity="0.6" stroke-width="1" stroke-dasharray="5 6"/>
<path d="M5.0 674.9L10.9 677.1L17.7 677.8L24.4 676.3L31.1 677.8L37.0 675.8L43.7 677.8L49.6 676.6L55.5 679.5L62.2 677.8L67.2 679.1L73.1 678.3L79.0 679.6L85.7 680.3L91.6 680.8L97.5 681.7L103.4 682.8L109.3 682.2L116.0 681.7L121.9 680.8L127.8 680.0L133.6 683.8L140.4 680.0L146.2 678.6L153.0 677.4L158.9 674.1L164.7 677.4L170.6 676.1L176.5 677.8L182.4 680.3L188.3 682.2L195.0 681.7L200.9 682.8L207.6 684.2L213.5 681.1L219.4 683.8L225.2 686.2L232.0 688.0L237.9 685.9L243.7 686.7L250.0 688.0L256.7 687.9L263.1 689.6L269.3 688.0L275.2 686.4L281.1 685.9L287.3 682.2L293.4 682.5L299.6 681.3L305.5 682.2L311.4 678.3L317.2 678.6L324.0 679.1L330.2 680.5L336.2 676.3L342.1 677.8L348.3 679.1L354.2 680.3L360.1 680.0L366.0 679.1L372.7 681.7L378.6 680.0L385.0 676.3L391.2 678.3L397.1 680.5L403.0 681.7L408.9 681.1L414.7 678.0L421.1 679.1L427.3 676.6L434.1 671.2L439.9 673.2L445.8 674.9L451.7 676.9L458.1 677.8L463.8 680.8L469.7 683.3L476.1 672.1L482.0 673.6L487.9 674.6L494.6 674.1L500.0 674.9L506.7 676.1L513.1 675.4L519.3 678.3L525.2 680.0L531.1 682.2L537.3 681.1L543.4 681.7L549.6 679.6L556.3 679.5L562.2 679.5L568.1 680.3L574.0 682.5L580.2 679.1L586.2 677.1L592.1 680.3L598.0 680.0L604.2 674.1L610.6 670.2L616.8 669.0L623.2 672.7L629.1 673.7L635.0 675.8L641.2 675.4L647.1 677.1L653.0 680.3L659.2 679.1L665.2 678.8L671.5 681.1L677.3 678.6L684.1 678.3L689.9 680.5L695.8 675.3L701.7 675.8L708.1 676.9L714.0 680.0L720.2 680.3L726.1 681.3L732.8 683.8L738.7 681.3L744.6 683.0L750.0 683.8L756.7 687.2L763.1 690.4L769.3 687.2L775.2 685.3L781.1 685.3L787.3 685.0L793.4 686.7L799.9 689.6L806.3 686.7L812.2 684.5L818.1 679.1L824.0 678.8L830.2 680.5L836.2 684.2L842.1 685.5L848.3 688.0L854.7 690.1L860.9 682.5L867.2 685.0L873.2 685.5L879.1 686.4L885.0 689.7L891.2 688.9L897.1 691.7L903.5 688.7L909.7 691.4L915.6 693.9L921.8 696.3L927.8 697.3L934.1 696.8L939.9 697.3L945.8 700.5L951.7 701.8L958.1 699.3L964.0 698.5L970.2 697.6L976.6 699.6L982.8 700.1L988.7 701.3L994.9 699.6L1000.0 702.7L1006.7 704.8L1013.1 704.3L1019.3 700.1L1025.2 695.6L1031.4 694.6L1037.3 696.8L1043.4 699.0L1049.9 701.8L1056.0 702.3L1062.2 700.1L1068.1 700.6L1074.0 699.3L1080.7 700.6L1086.9 700.1L1093.0 701.8L1098.8 703.5L1104.7 693.9L1110.9 694.3L1117.2 690.4L1123.2 691.7L1129.1 692.6L1135.3 692.2L1141.2 693.4L1147.9 693.8L1153.8 694.8L1159.7 693.8L1165.9 695.4L1171.8 695.1L1177.8 692.1L1184.1 690.9L1189.9 689.2L1195.8 684.5L1202.6 684.2L1208.9 681.3L1215.0 683.8L1220.9 685.9L1227.3 688.9L1233.2 689.2L1239.4 692.1L1245.0 694.6L1251.2 693.9L1257.4 690.9L1263.5 690.9L1269.7 692.6L1275.9 695.6L1281.9 698.1L1288.2 699.3L1294.0 699.0L1300.3 699.0L1306.3 702.3L1312.2 704.7L1318.4 703.5L1324.6 702.3L1330.7 701.3L1336.9 698.5L1342.8 700.1L1349.2 702.3L1355.1 704.0L1361.3 698.1L1367.5 698.8L1373.1 700.1L1379.8 693.8L1386.0 692.1L1391.9 690.9L1397.8 695.4" stroke="#c23a3a" stroke-width="1.2" fill="none" stroke-linejoin="round" clip-path="url(#ca)" />
<path d="M5.0 749.4L11.8 746.9L18.5 740.5L25.2 734.3L31.1 732.1L37.0 738.0L42.9 738.0L48.7 734.6L54.6 736.3L60.9 739.1L67.2 735.4L73.1 730.7L79.8 732.1L85.7 729.9L91.6 730.1L97.5 730.4L104.2 734.6L110.1 733.8L116.0 733.8L121.9 732.1L127.8 728.7L133.6 730.9L140.4 738.0L147.1 749.4L153.0 746.0L158.9 734.6L164.7 731.7L170.6 721.7L176.5 721.5L182.9 721.5L189.1 727.5L195.8 736.8L201.7 738.0L208.1 736.8L213.8 731.6L220.2 731.6L226.1 735.9L232.3 739.1L238.7 738.0L244.6 732.6L250.0 732.6L256.7 728.7L263.1 725.7L269.0 717.8L275.2 726.5L281.1 735.8L287.3 725.0L293.4 723.2L299.6 731.2L305.5 738.8L311.4 742.7L317.7 745.5L324.0 753.1L330.2 757.0L336.2 746.9L342.1 739.6L348.3 746.9L354.2 750.6L360.1 746.4L366.5 752.8L373.2 757.3L379.1 776.6L385.0 769.1L391.2 746.4L397.1 736.3L403.3 743.8L409.2 755.6L415.2 743.0L421.1 726.2L427.3 763.2L434.1 791.2L439.9 791.8L446.2 774.9L451.7 771.6L458.1 764.9L464.0 760.3L470.2 763.7L476.1 789.2L482.0 789.2L488.2 782.5L494.6 781.7L500.0 783.3L506.7 779.1L513.1 771.6L519.3 770.7L525.2 770.7L531.1 771.6L537.3 774.1L543.4 773.8L549.6 766.9L556.3 764.5L562.2 761.0L568.1 756.1L574.0 751.1L580.2 756.5L586.2 748.9L592.1 740.8L598.3 748.9L604.2 766.2L610.9 795.5L616.8 783.9L623.2 775.4L629.1 777.1L635.0 772.4L641.2 776.1L647.1 777.5L653.0 776.1L659.2 778.3L665.2 775.3L671.5 770.7L677.3 762.3L684.1 754.8L689.9 754.4L695.8 751.4L701.7 753.1L708.1 749.4L714.0 746.7L720.2 744.7L726.1 744.3L732.8 741.0L738.7 725.4L744.9 721.5L750.0 725.4L756.7 729.6L763.1 732.9L769.0 731.6L775.2 738.8L781.1 736.3L787.3 737.6L793.4 736.8L799.9 740.8L806.3 743.0L812.2 745.9L818.1 736.8L824.0 718.3L830.2 721.2L836.2 729.6L842.1 727.5L848.3 733.3L854.7 736.3L860.9 727.9L867.2 725.4L873.2 737.5L879.1 739.6L885.0 744.2L891.2 749.4L897.1 750.9L903.5 759.8L909.7 756.5L915.6 761.0L921.8 764.5L927.8 757.8L934.1 760.7L939.9 760.7L945.8 769.1L951.7 772.8L958.1 784.2L964.8 797.1L970.7 797.3L976.6 785.0L982.8 777.0L989.0 775.3L994.9 764.9L1000.0 758.6L1006.7 753.9L1013.1 745.0L1019.3 748.9L1025.7 745.2L1031.9 730.1L1037.8 731.6L1043.7 735.1L1049.9 733.3L1056.0 729.6L1062.2 726.2L1068.1 728.7L1074.0 739.1L1080.7 745.0L1086.9 741.7L1093.0 746.0L1098.8 750.2L1104.7 732.9L1110.9 722.3L1117.2 713.6L1123.2 714.8L1129.1 718.3L1135.3 727.9L1141.2 731.2L1147.9 733.4L1153.8 735.4L1159.7 741.8L1165.9 743.8L1171.8 745.9L1177.8 743.5L1184.1 746.4L1189.9 741.7L1196.3 747.2L1203.1 753.9L1208.9 768.2L1215.9 770.2L1220.9 768.6L1226.8 762.7L1233.2 768.6L1239.4 770.2L1245.3 770.7L1251.5 770.7L1257.9 785.4L1263.8 783.9L1269.7 777.0L1275.9 774.4L1281.9 770.7L1288.2 764.5L1294.0 760.2L1300.3 761.2L1306.3 765.7L1311.7 768.2L1318.4 751.9L1324.6 754.8L1330.7 764.9L1336.4 774.9L1342.8 777.1L1349.2 771.2L1355.1 774.1L1361.3 749.7L1366.8 725.9L1373.1 722.0L1380.1 747.5L1386.0 734.6L1392.0 720.8L1397.8 723.2" stroke="#2962ff" stroke-width="1.2" fill="none" stroke-linejoin="round" clip-path="url(#cc)" />
<rect x="1462" y="2" width="62" height="829" fill="#fff"/>
<rect x="5" y="803" width="1519" height="28" fill="#fff"/>
<path d="M1462.5 2V831M5 803.5H1524" stroke="#4a4a4a" stroke-width="1"/>
<path d="M5 666.5H1524M5 708.5H1524" stroke="#e0e3eb" stroke-width="1"/>
<text x="1471.8" y="70.9" font-size="12" fill="#55575d" textLength="41.2" lengthAdjust="spacingAndGlyphs">107.000</text>
<text x="1471.8" y="115.9" font-size="12" fill="#55575d" textLength="41.2" lengthAdjust="spacingAndGlyphs">106.500</text>
<text x="1471.8" y="159.9" font-size="12" fill="#55575d" textLength="41.2" lengthAdjust="spacingAndGlyphs">106.000</text>
<text x="1471.8" y="204.9" font-size="12" fill="#55575d" textLength="41.2" lengthAdjust="spacingAndGlyphs">105.500</text>
<text x="1471.8" y="248.9" font-size="12" fill="#55575d" textLength="41.2" lengthAdjust="spacingAndGlyphs">105.000</text>
<text x="1471.8" y="293.9" font-size="12" fill="#55575d" textLength="41.2" lengthAdjust="spacingAndGlyphs">104.500</text>
<text x="1471.8" y="337.9" font-size="12" fill="#55575d" textLength="41.2" lengthAdjust="spacingAndGlyphs">104.000</text>
<text x="1471.8" y="382.9" font-size="12" fill="#55575d" textLength="41.2" lengthAdjust="spacingAndGlyphs">103.500</text>
<text x="1471.8" y="426.9" font-size="12" fill="#55575d" textLength="41.2" lengthAdjust="spacingAndGlyphs">103.000</text>
<text x="1471.8" y="471.9" font-size="12" fill="#55575d" textLength="41.2" lengthAdjust="spacingAndGlyphs">102.500</text>
<text x="1471.8" y="515.9" font-size="12" fill="#55575d" textLength="41.2" lengthAdjust="spacingAndGlyphs">102.000</text>
<text x="1471.8" y="560.9" font-size="12" fill="#55575d" textLength="41.2" lengthAdjust="spacingAndGlyphs">101.500</text>
<text x="1471.8" y="604.9" font-size="12" fill="#55575d" textLength="41.2" lengthAdjust="spacingAndGlyphs">101.000</text>
<text x="1471.8" y="648.9" font-size="12" fill="#55575d" textLength="41.2" lengthAdjust="spacingAndGlyphs">100.500</text>
<text x="1470.1" y="702.8" font-size="12" fill="#55575d" textLength="29.5" lengthAdjust="spacingAndGlyphs">0.500</text>
<text x="1470.1" y="722.2" font-size="12" fill="#55575d" textLength="35.4" lengthAdjust="spacingAndGlyphs">200.00</text>
<text x="1470.3" y="757.3" font-size="12" fill="#55575d" textLength="23" lengthAdjust="spacingAndGlyphs">0.00</text>
<text x="1470.3" y="793" font-size="12" fill="#55575d" textLength="41.5" lengthAdjust="spacingAndGlyphs">−200.00</text>
<path d="M1462 27h55a2 2 0 0 1 2 2v13a2 2 0 0 1 -2 2h-55z" fill="#000"/>
<text x="1471.2" y="40" font-size="12" font-weight="bold" fill="#fff" textLength="41.8" lengthAdjust="spacingAndGlyphs">107.353</text>
<path d="M1462 235h55a2 2 0 0 1 2 2v13a2 2 0 0 1 -2 2h-55z" fill="#000"/>
<text x="1471.2" y="248" font-size="12" font-weight="bold" fill="#fff" textLength="41.8" lengthAdjust="spacingAndGlyphs">105.020</text>
<path d="M1462 475h55a2 2 0 0 1 2 2v13a2 2 0 0 1 -2 2h-55z" fill="#000"/>
<text x="1471.2" y="488" font-size="12" font-weight="bold" fill="#fff" textLength="41.8" lengthAdjust="spacingAndGlyphs">102.321</text>
<path d="M1462 624h55a2 2 0 0 1 2 2v13a2 2 0 0 1 -2 2h-55z" fill="#000"/>
<text x="1471.2" y="637" font-size="12" font-weight="bold" fill="#fff" textLength="41.8" lengthAdjust="spacingAndGlyphs">100.645</text>
<rect x="1463" y="2" width="61" height="34" fill="#fff"/>
<rect x="1466.5" y="6.5" width="53" height="25" rx="4" fill="#fff" stroke="#e0e3eb"/>
<text x="1470" y="23" font-size="12" fill="#131722" textLength="21" lengthAdjust="spacingAndGlyphs">USD</text>
<path d="M1510 17.5l2.6 2.6l2.6 -2.6" stroke="#131722" stroke-width="1.2" fill="none"/>
<text x="9.6" y="821.2" font-size="12.8" fill="#55575d" textLength="19.1" lengthAdjust="spacingAndGlyphs">Aug</text>
<text x="149.8" y="821.2" font-size="12.8" fill="#55575d" textLength="18.9" lengthAdjust="spacingAndGlyphs">Sep</text>
<text x="278.1" y="821.2" font-size="12.8" fill="#55575d" textLength="18.3" lengthAdjust="spacingAndGlyphs">Oct</text>
<text x="411.2" y="821.2" font-size="12.8" fill="#55575d" textLength="19.9" lengthAdjust="spacingAndGlyphs">Nov</text>
<text x="546.9" y="821.2" font-size="12.8" fill="#55575d" textLength="18.7" lengthAdjust="spacingAndGlyphs">Dec</text>
<text x="664.9" y="821.2" font-size="12.3" fill="#55575d" textLength="26.6" lengthAdjust="spacingAndGlyphs" font-weight="bold">2024</text>
<text x="803.1" y="821.2" font-size="12.8" fill="#55575d" textLength="18.2" lengthAdjust="spacingAndGlyphs">Feb</text>
<text x="930.6" y="821.2" font-size="12.8" fill="#55575d" textLength="19.2" lengthAdjust="spacingAndGlyphs">Mar</text>
<text x="1053.2" y="821.2" font-size="12.8" fill="#55575d" textLength="17.9" lengthAdjust="spacingAndGlyphs">Apr</text>
<text x="1185.9" y="821.2" font-size="12.8" fill="#55575d" textLength="20.7" lengthAdjust="spacingAndGlyphs">May</text>
<text x="1328.0" y="821.2" font-size="12.8" fill="#55575d" textLength="18.5" lengthAdjust="spacingAndGlyphs">Jun</text>
<text x="1422.1" y="821.2" font-size="12.8" fill="#55575d" textLength="12.2" lengthAdjust="spacingAndGlyphs">24</text>
<path d="M1486.5 817.5l3.4 -5.6h6.6l3.4 5.6l-3.4 5.6h-6.6z" fill="none" stroke="#131722" stroke-width="1.1"/><circle cx="1493.2" cy="817.5" r="1.6" fill="none" stroke="#131722" stroke-width="1"/>
<rect x="5" y="2" width="1457" height="0" fill="#fff"/>
<circle cx="22.8" cy="18.1" r="9" fill="#0f7d67"/>
<text x="22.8" y="23.3" font-size="14.5" font-weight="bold" fill="#fff" text-anchor="middle">$</text>
<text x="36.6" y="24" font-size="16" fill="#55575e" textLength="249" lengthAdjust="spacingAndGlyphs">US Dollar Index · 1D · PEPPERSTONE</text>
<circle cx="309.5" cy="18" r="7" fill="#089981" fill-opacity="0.15"/><circle cx="309.5" cy="18" r="3.5" fill="#089981"/>
<text x="336" y="23" font-size="13" fill="#55575e" textLength="54.8" lengthAdjust="spacingAndGlyphs"><tspan>O</tspan><tspan fill="#1d6f55">105.576</tspan></text>
<text x="397" y="23" font-size="13" fill="#55575e" textLength="54.8" lengthAdjust="spacingAndGlyphs"><tspan>H</tspan><tspan fill="#1d6f55">105.681</tspan></text>
<text x="458.6" y="23" font-size="13" fill="#55575e" textLength="51.4" lengthAdjust="spacingAndGlyphs"><tspan>L</tspan><tspan fill="#1d6f55">105.531</tspan></text>
<text x="516.8" y="23" font-size="13" fill="#55575e" textLength="54.2" lengthAdjust="spacingAndGlyphs"><tspan>C</tspan><tspan fill="#1d6f55">105.586</tspan></text>
<text x="578" y="23" font-size="13" fill="#1d6f55" textLength="90.8" lengthAdjust="spacingAndGlyphs">+0.043 (+0.04%)</text>
<rect x="9" y="35" width="174.6" height="27" fill="#fff" fill-opacity="0.55"/>
<rect x="13.5" y="34.9" width="61" height="22.6" rx="4" fill="#fff" stroke="#f23645" stroke-width="1"/>
<text x="44" y="50.7" font-size="12" fill="#f23645" text-anchor="middle" textLength="44.6" lengthAdjust="spacingAndGlyphs">105.586</text>
<text x="96.5" y="51" font-size="11" fill="#131722" text-anchor="middle">0.050</text>
<rect x="118.5" y="34.9" width="61" height="22.6" rx="4" fill="#fff" stroke="#2962ff" stroke-width="1"/>
<text x="149" y="50.7" font-size="12" fill="#2962ff" text-anchor="middle" textLength="44.6" lengthAdjust="spacingAndGlyphs">105.636</text>
<rect x="9" y="62" width="392" height="24" fill="#fff" fill-opacity="0.55"/>
<text x="14" y="78.5" font-size="12" fill="#55575e" textLength="383" lengthAdjust="spacingAndGlyphs">MA Ribbon SMA close 20 SMA close 50 SMA close 100 SMA close 200</text>
<text x="406.3" y="78.5" font-size="12" fill="#f23645" textLength="44.6" lengthAdjust="spacingAndGlyphs">104.818</text>
<text x="457.6" y="78.5" font-size="12" fill="#2962ff" textLength="44.4" lengthAdjust="spacingAndGlyphs">105.227</text>
<text x="509.8" y="78.4" font-size="10.5" fill="#131722">∅</text>
<text x="523.9" y="78.5" font-size="12" fill="#131722" textLength="44.4" lengthAdjust="spacingAndGlyphs">104.498</text>
<rect x="14.5" y="88.5" width="28" height="20" rx="3" fill="#fff" fill-opacity="0.85" stroke="#e0e3eb"/>
<path d="M24.5 100.5l4 -4l4 4" stroke="#131722" stroke-width="1.4" fill="none"/>
<rect x="9" y="674" width="116" height="19" fill="#fff" fill-opacity="0.6"/>
<text x="14.3" y="688" font-size="12" fill="#55575e" textLength="67.2" lengthAdjust="spacingAndGlyphs">ATR 14 RMA</text>
<text x="89.9" y="688" font-size="12" fill="#c23a3a" textLength="31.1" lengthAdjust="spacingAndGlyphs">0.517</text>
<rect x="9" y="716" width="158" height="19" fill="#fff" fill-opacity="0.6"/>
<text x="14.3" y="730" font-size="12" fill="#55575e" textLength="101.3" lengthAdjust="spacingAndGlyphs">CCI 20 hlc3 SMA 5</text>
<text x="124.7" y="730" font-size="12" fill="#2962ff" textLength="37.5" lengthAdjust="spacingAndGlyphs">169.07</text>
<path d="M16.8 774.2h12.1v14.5h-6.2v-8.4h-5.9z M40.3 774.2h6.5l-5.6 14.5h-7.1z" fill="#131722"/><circle cx="34.1" cy="777" r="2.6" fill="#131722"/>
<g clip-path="url(#call)">
<g opacity="0.64">
<text x="1273.5" y="791" font-size="63" font-weight="bold" font-style="italic" fill="#505050" stroke="#505050" stroke-width="0.6" transform="translate(2.6 2.6)" style="filter:blur(0.8px)">海马财经</text>
<text x="1273.5" y="791" font-size="63" font-weight="bold" font-style="italic" fill="#fff" stroke="#fff" stroke-width="1.5">海马财经</text>
</g>
<g opacity="0.6">
<text x="1293.5" y="830.2" font-size="31" font-weight="bold" font-style="italic" fill="#7a8aa8" stroke="#7a8aa8" stroke-width="1.6" letter-spacing="11.4">zzrt01.cn</text>
<text x="1292" y="829" font-size="31" font-weight="bold" font-style="italic" fill="#4080f0" stroke="#4080f0" stroke-width="1.6" letter-spacing="11.4">zzrt01.cn</text>
</g>
</g>
</svg>
</body></html>
